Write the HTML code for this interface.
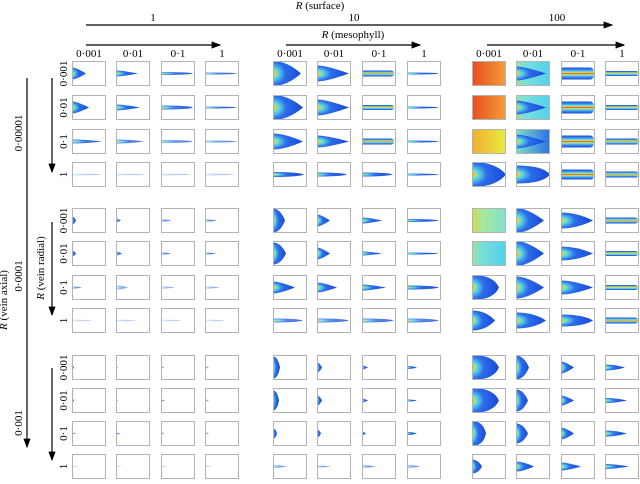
<!DOCTYPE html>
<html><head><meta charset="utf-8">
<style>
body{margin:0;background:#fff;}
svg{display:block;font-family:"Liberation Serif",serif;font-size:11px;}
</style></head>
<body>
<svg id="fig" width="640" height="484" viewBox="0 0 640 484" xmlns="http://www.w3.org/2000/svg">
<defs>
<marker id="ah" markerWidth="8" markerHeight="6" refX="7" refY="3" orient="auto"><path d="M0,0 L8,3 L0,6 z" fill="#000"/></marker>
<radialGradient id="plume" cx="0" cy="0.5" r="1" fx="0" fy="0.5">
<stop offset="0" stop-color="#e02010"/><stop offset="0.06" stop-color="#f4d020"/><stop offset="0.18" stop-color="#60e0e0"/><stop offset="0.45" stop-color="#2c6cea"/><stop offset="1" stop-color="#1848d8"/>
</radialGradient>
<linearGradient id="caps" x1="0" y1="0" x2="0" y2="1">
<stop offset="0" stop-color="#1848d8"/><stop offset="0.2" stop-color="#3c8ef0"/><stop offset="0.35" stop-color="#70e0e0"/><stop offset="0.45" stop-color="#f4d020"/><stop offset="0.5" stop-color="#e02010"/><stop offset="0.55" stop-color="#f4d020"/><stop offset="0.65" stop-color="#70e0e0"/><stop offset="0.8" stop-color="#3c8ef0"/><stop offset="1" stop-color="#1848d8"/>
</linearGradient>
<linearGradient id="bgOrange" x1="0" y1="0" x2="1" y2="0"><stop offset="0" stop-color="#ea4a22"/><stop offset="1" stop-color="#f3a038"/></linearGradient>
<linearGradient id="bgYellow" x1="0" y1="0" x2="1" y2="0"><stop offset="0" stop-color="#f0b030"/><stop offset="1" stop-color="#e8ec40"/></linearGradient>
<linearGradient id="bgGreen" x1="0" y1="0" x2="1" y2="0"><stop offset="0" stop-color="#d8d850"/><stop offset="0.3" stop-color="#a8e89a"/><stop offset="1" stop-color="#80e0d0"/></linearGradient>
<linearGradient id="bgCyan" x1="0" y1="0" x2="1" y2="0"><stop offset="0" stop-color="#a0e0a0"/><stop offset="0.3" stop-color="#78e0d8"/><stop offset="1" stop-color="#50d0f0"/></linearGradient>
<linearGradient id="bgTeal" x1="0" y1="0" x2="1" y2="0"><stop offset="0" stop-color="#80e0c8"/><stop offset="1" stop-color="#2a70e8"/></linearGradient>
</defs>
<g id="labels"></g>
<g id="cells"></g>
</svg>
<script>
// categories
const surfaceLevels = ["1","10","100"];
const mesophyllLevels = ["0·001","0·01","0·1","1"];
const axialLevels = ["0·00001","0·0001","0·001"];
const radialLevels = ["0·001","0·01","0·1","1"];
// plume length (px of 34) per cell: rows = axial*4+radial, cols = surface*4+mesophyll
const plumeLength = [
[14,22,32,32, 28,32,32,32, 34,30,33,33],
[17,24,32,32, 30,32,32,32, 34,30,33,33],
[30,28,32,32, 30,32,32,32, 34,30,33,33],
[30,30,30,30, 31,30,31,32, 34,34,33,33],
[4,5,10,12, 12,13,20,32, 34,28,32,33],
[4,6,10,11, 13,13,20,32, 34,28,32,33],
[10,12,14,15, 22,20,24,32, 27,28,32,33],
[20,20,20,20, 30,32,32,32, 23,30,32,33],
[2,2,3,4, 7,5,6,10, 27,13,13,20],
[2,2,4,4, 6,5,6,10, 27,12,13,22],
[4,4,3,4, 4,4,4,10, 14,12,13,22],
[6,6,6,6, 14,14,14,14, 10,18,20,24]];
// plume half-width (px of 12.5)
const plumeWidth = [
[6,3,1.5,1, 12.5,8,3,1, 12.5,7,6,2.5],
[6,3,2,1, 12.5,8,2.5,1, 12.5,7,6,2.5],
[2,2,1.5,1, 8,6,3,1, 12.5,7,6,3],
[0.7,0.7,0.7,0.7, 2.5,2,2,1, 12.5,9,5,3],
[4,2,1,1, 12,6,3,1.5, 12.5,12.5,8,3],
[3,2,1,1, 11,6,2,1, 12.5,12.5,7,2.5],
[1,2,1,1, 6,5,3,2, 12.5,11,7,2.5],
[0.7,0.7,0.7,0.7, 2,2,2,2, 10,8,6,3],
[2,1,1,1, 11,5,2,1.5, 12.5,12,6,3],
[2,1,1,1, 10,5,2,1, 12.5,11,5,2.5],
[0.7,1,1,1, 5,4,2,1.5, 12.5,10,6,3],
[0.7,0.7,0.7,0.7, 1.5,1,1.5,1.5, 7,5,4,2.5]];
// taper start fraction (shape)
const plumeTaper = [
[.3,.3,.9,.9, .5,.3,.9,.9, 1,.3,.88,.95],
[.3,.3,.9,.9, .5,.3,.9,.9, 1,.3,.88,.95],
[.5,.5,.9,.9, .4,.3,.9,.9, 1,.3,.88,.95],
[.9,.9,.9,.9, .8,.8,.8,.8, .7,.8,.9,.95],
[.5,.3,.6,.6, .6,.3,.3,.8, 1,.4,.5,.9],
[.5,.3,.6,.6, .6,.3,.3,.8, 1,.4,.5,.9],
[.6,.6,.6,.6, .3,.3,.3,.8, .8,.4,.4,.9],
[.9,.9,.9,.9, .8,.8,.8,.8, .6,.6,.7,.9],
[.5,.3,.5,.5, .7,.5,.3,.6, .8,.6,.3,.5],
[.5,.3,.5,.5, .7,.5,.3,.6, .8,.6,.3,.5],
[.5,.5,.5,.5, .7,.5,.3,.6, .8,.6,.3,.5],
[.5,.5,.5,.5, .5,.5,.5,.5, .6,.4,.3,.4]];
// intensity (opacity)
const plumeIntensity = [
[1,1,.9,.9, 1,1,1,1, 1,1,1,1],
[1,1,.9,.9, 1,1,1,1, 1,1,1,1],
[.9,.8,.7,.7, 1,1,1,1, 1,1,1,1],
[.35,.35,.35,.35, 1,1,1,1, 1,1,1,1],
[1,.9,.8,.8, 1,1,1,1, 1,1,1,1],
[1,.9,.8,.8, 1,1,1,1, 1,1,1,1],
[.7,.5,.5,.5, 1,1,1,1, 1,1,1,1],
[.3,.3,.3,.3, .8,.8,.8,.8, 1,1,1,1],
[1,.8,.7,.6, 1,1,1,1, 1,1,1,1],
[1,.8,.7,.6, 1,1,1,1, 1,1,1,1],
[.8,.8,.7,.6, 1,1,1,1, 1,1,1,1],
[.3,.3,.3,.3, .6,.6,.6,.6, 1,1,1,1]];
// background fill of cell (null = white)
const cellBackground = [
[null,null,null,null, null,null,null,null, "bgOrange","bgCyan",null,null],
[null,null,null,null, null,null,null,null, "bgOrange","bgCyan",null,null],
[null,null,null,null, null,null,null,null, "bgYellow","bgTeal",null,null],
[null,null,null,null, null,null,null,null, null,null,null,null],
[null,null,null,null, null,null,null,null, "bgGreen",null,null,null],
[null,null,null,null, null,null,null,null, "bgCyan",null,null,null],
[null,null,null,null, null,null,null,null, null,null,null,null],
[null,null,null,null, null,null,null,null, null,null,null,null],
[null,null,null,null, null,null,null,null, null,null,null,null],
[null,null,null,null, null,null,null,null, null,null,null,null],
[null,null,null,null, null,null,null,null, null,null,null,null],
[null,null,null,null, null,null,null,null, null,null,null,null]];

const NS="http://www.w3.org/2000/svg";
const colX=[72,116,161,205, 273,317,362,407, 472,516,561,605];
const rowY=[61,95,129,162, 208,241,275,308, 355,388,421,454];
const CW=34, CH=25;
function mk(tag,attrs,parent){const e=document.createElementNS(NS,tag);for(const k in attrs)e.setAttribute(k,attrs[k]);parent.appendChild(e);return e;}
const cells=document.getElementById('cells');
for(let r=0;r<12;r++){for(let c=0;c<12;c++){
  const g=mk('g',{transform:`translate(${colX[c]},${rowY[r]})`},cells);
  
  
  const bg=cellBackground[r][c];
  if(bg){mk('rect',{x:0,y:0,width:CW,height:CH,fill:`url(#${bg})`},g);}
  const L=plumeLength[r][c], W=plumeWidth[r][c], K=plumeTaper[r][c], O=plumeIntensity[r][c];
  if(!bg || c%4!==0){
    const cy=CH/2, t=L*K;
    const isCaps = (K>=0.85 && W>=2.5);
    let d;
    if(isCaps){
      d=`M0,${cy-W} L${t},${cy-W} Q${L},${cy-W} ${L},${cy} Q${L},${cy+W} ${t},${cy+W} L0,${cy+W} Z`;
    } else {
      d=`M0,${cy-W} Q${t},${cy-W} ${L},${cy} Q${t},${cy+W} 0,${cy+W} Z`;
    }
    const fill=isCaps?'url(#caps)':'url(#plume)';
    const p=mk('path',{d:d,fill:fill,opacity:O},g);
    
    
  }
  const b=mk('rect',{x:0.5,y:0.5,width:CW-1,height:CH-1,fill:'none',stroke:'#b0b4b4','stroke-width':1},g);
  
  
}}

const L=document.getElementById('labels');
function txt(x,y,s,name,rot,anchor){const t=mk('text',{x:x,y:y,'text-anchor':anchor||'middle'},L);
  if(rot)t.setAttribute('transform',`rotate(-90 ${x} ${y})`);t.textContent=s;
  return t;}
function rtxt(x,y,rest,name,rot){const t=mk('text',{x:x,y:y,'text-anchor':'middle'},L);
  if(rot)t.setAttribute('transform',`rotate(-90 ${x} ${y})`);
  const i=mk('tspan',{'font-style':'italic'},t);i.textContent='R';const r2=mk('tspan',{},t);r2.textContent=rest;
  return t;}
function arrow(x1,y1,x2,y2,name){const a=mk('line',{x1:x1,y1:y1,x2:x2,y2:y2,stroke:'#000','stroke-width':1.2,'marker-end':'url(#ah)'},L);
  }

rtxt(320,9,' (surface)','surface-axis-title');
const surfX=[153,354,557];
surfaceLevels.forEach((s,i)=>txt(surfX[i],21,s,'surface-label-'+i));
arrow(86,25,612,25,'surface-arrow');
rtxt(353,38,' (mesophyll)','mesophyll-axis-title');
[[86,220],[286,420],[487,624]].forEach((p,i)=>arrow(p[0],45,p[1],45,'mesophyll-arrow-'+i));
for(let c=0;c<12;c++) txt(colX[c]+CW/2,57,mesophyllLevels[c%4],'mesophyll-label-'+c);

arrow(27,78,27,447,'axial-arrow');
rtxt(7,300,' (vein axial)','axial-axis-title',true);
const axY=[133,276,423];
axialLevels.forEach((s,i)=>txt(22,axY[i],s,'axial-label-'+i,true));
[[78,172],[222,315],[368,460]].forEach((p,i)=>arrow(52,p[0],52,p[1],'radial-arrow-'+i));
rtxt(44,268,' (vein radial)','radial-axis-title',true);
for(let r=0;r<12;r++) txt(67,rowY[r]+CH/2,radialLevels[r%4],'radial-label-'+r,true);
</script>
</body></html>
